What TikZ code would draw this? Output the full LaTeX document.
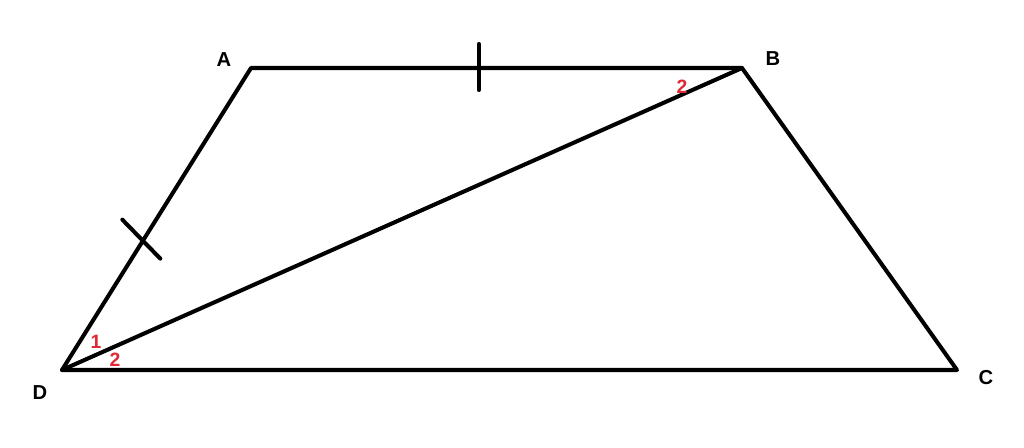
\documentclass[tikz,border=0pt]{standalone}
\usepackage{fontspec}
\setmainfont{Liberation Sans}
\usetikzlibrary{calc}
\definecolor{markred}{RGB}{222,40,52}
\tikzset{
  edge/.style={line width=2.3pt, line cap=round, line join=round},
  vlabel/.style={font=\bfseries\fontsize{11.5}{11.5}\selectfont, inner sep=0pt},
  anglabel/.style={font=\bfseries\fontsize{11}{11}\selectfont, text=markred, inner sep=0pt},
}

\begin{document}
\begin{tikzpicture}[x=0.02cm, y=-0.02cm]
    \useasboundingbox (0,0) rectangle (1024,448);
    \coordinate (A) at (251,68);
    \coordinate (B) at (742,68);
    \coordinate (C) at (957,370);
    \coordinate (D) at (62,370);
    % trapezoid and diagonal
    \draw[edge] (A) -- (B) -- (C) -- (D) -- cycle;
    \draw[edge] (D) -- (B);
    % equal sides
    \coordinate (tab) at ($(A)!0.464!(B)$);
    \coordinate (tad) at ($(D)!0.425!(A)$);
    \draw[edge] ($(tab)+(0,-24)$) -- ($(tab)+(0,22)$);
    \draw[edge] ($(tad)+(-20,-22)$) -- ($(tad)+(18,17)$);
    % vertex labels
    \node[vlabel] (lA) at (224,60) {A};
    \node[vlabel] (lB) at (773,59) {B};
    \node[vlabel] (lC) at (986,378) {C};
    \node[vlabel] (lD) at (40,393) {D};
    % angle marks
    \node[anglabel] (b2) at (682,87) {2};
    \node[anglabel] (d1) at (96,342) {1};
    \node[anglabel] (d2) at (115,360) {2};
\end{tikzpicture}
\end{document}
